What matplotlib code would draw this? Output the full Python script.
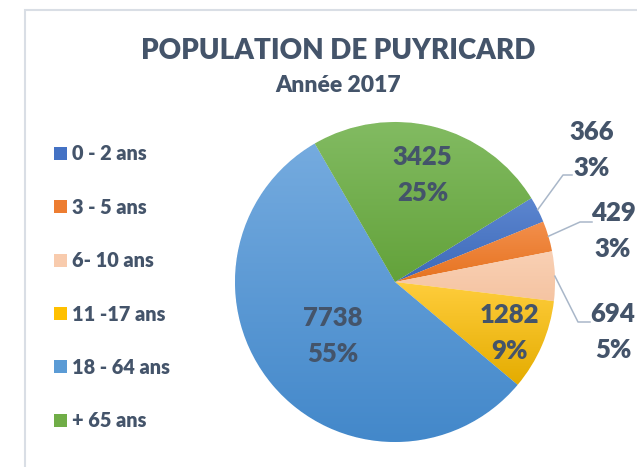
import numpy as np
import matplotlib
matplotlib.use("Agg")
import matplotlib.pyplot as plt
from matplotlib.colors import LinearSegmentedColormap
from matplotlib.patches import Rectangle
from matplotlib.lines import Line2D

# ---------------- data ----------------
categories = ["0 - 2 ans", "3 - 5 ans", "6- 10 ans", "11 -17 ans", "18 - 64 ans", "+ 65 ans"]
values = [366, 429, 694, 1282, 7738, 3425]
percents = [3, 3, 5, 9, 55, 25]          # as printed on the chart
title = "POPULATION DE PUYRICARD"
subtitle = "Année 2017"

# ---------------- style ----------------
W, H = 637, 467
TXT = "#44546A"
FONT = "Lato"
WEIGHT = "heavy"
base_colors = ["#4472C4", "#ED7D31", "#F8CBAD", "#FFC000", "#5B9BD5", "#70AD47"]
grad_top = ["#5c86d0", "#f38f4c", "#f9d0b4", "#ffcd3c", "#75abdf", "#82bb62"]
grad_bot = ["#3d69b8", "#e67320", "#f5c4a2", "#e4ac00", "#4388ca", "#63a23a"]

CX, CY, R = 395, 282, 160          # pie centre / radius in pixels (y from top)
START = 31.6                       # start angle, slices run clockwise

# label layout: inside (distance factor) or outside (elbow, end, text centre)
inside_factor = {3: 0.78, 4: 0.51, 5: 0.70}
outside = {
    0: ((563, 175), (572, 175), (592, 148.5)),
    1: ((580, 222), (592, 222), (613, 230)),
    2: ((578, 322), (590, 322), (613, 330.5)),
}

fig = plt.figure(figsize=(W / 100, H / 100), dpi=100)
ax = fig.add_axes([0, 0, 1, 1])
ax.set_xlim(0, W)
ax.set_ylim(0, H)
ax.axis("off")

def Y(y):
    return H - y

# frame
ax.add_patch(Rectangle((25, Y(10) - 600), 1000, 600, fill=False,
                       edgecolor="#d9dee5", linewidth=1.5, zorder=0))

wedges, _ = ax.pie(values, colors=base_colors, startangle=START, counterclock=False,
                   center=(CX, Y(CY)), radius=R,
                   wedgeprops=dict(linewidth=0.6, edgecolor="white"))

grad = np.linspace(0, 1, 256).reshape(-1, 1)
for i, w in enumerate(wedges):
    ext = w.get_path().get_extents()
    cmap = LinearSegmentedColormap.from_list(f"g{i}", [grad_bot[i], grad_top[i]])
    im = ax.imshow(grad, cmap=cmap, origin="lower", aspect="auto",
                   extent=(ext.x0, ext.x1, ext.y0, ext.y1), zorder=1.5, interpolation="bilinear")
    im.set_clip_path(w)
    w.set_zorder(1)

ax.set_xlim(0, W)
ax.set_ylim(0, H)
ax.set_aspect("auto")

LBL = 18.5
LINE = 36
cap = 0.72 * LBL * 100 / 72

def two_line(x, yc, v, p):
    ax.text(x, Y(yc - LINE / 2 + cap / 2), f"{v}", ha="center", va="baseline",
            fontsize=LBL, fontweight=WEIGHT, color=TXT, family=FONT, zorder=5)
    ax.text(x, Y(yc + LINE / 2 + cap / 2), f"{p}%", ha="center", va="baseline",
            fontsize=LBL, fontweight=WEIGHT, color=TXT, family=FONT, zorder=5)

for i, w in enumerate(wedges):
    mid = np.deg2rad((w.theta1 + w.theta2) / 2)
    if i in inside_factor:
        f = inside_factor[i]
        x = CX + f * R * np.cos(mid)
        yc = CY - f * R * np.sin(mid)
        two_line(x, yc, values[i], percents[i])
    else:
        elbow, end, tc = outside[i]
        sx = CX + R * np.cos(mid)
        sy = CY - R * np.sin(mid)
        ax.add_line(Line2D([sx, elbow[0], end[0]], [Y(sy), Y(elbow[1]), Y(end[1])],
                           color="#a9b7c9", linewidth=1.1, zorder=4))
        two_line(tc[0], tc[1], values[i], percents[i])

# title
ax.text(338, Y(59.3), title, ha="center", va="baseline", fontsize=20,
        fontweight=WEIGHT, color=TXT, family=FONT)
ax.text(338.5, Y(91.5), subtitle, ha="center", va="baseline", fontsize=16.5,
        fontweight=WEIGHT, color=TXT, family=FONT)

# legend
LEG_FS = 14.3
lcap = 0.72 * LEG_FS * 100 / 72
for i, (lab, col) in enumerate(zip(categories, base_colors)):
    yc = 153.3 + i * 53.4
    ax.add_patch(Rectangle((54, Y(yc + 6.5)), 13, 13, facecolor=col, edgecolor="none"))
    ax.text(72, Y(yc + lcap / 2), lab, ha="left", va="baseline", fontsize=LEG_FS,
            fontweight=WEIGHT, color=TXT, family=FONT)

fig.savefig("out.png", dpi=100)
